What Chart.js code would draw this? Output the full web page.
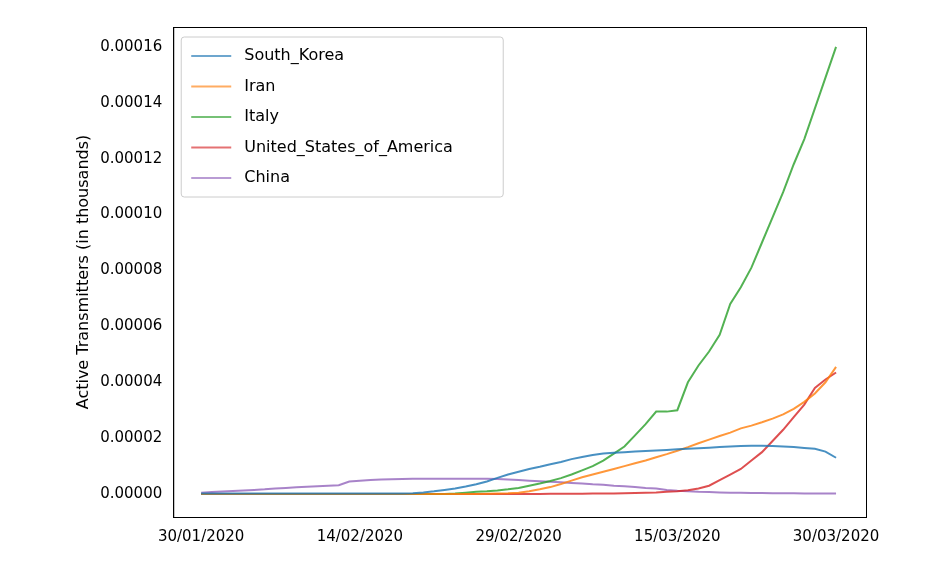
<!DOCTYPE html>
<html><head><script src="https://cdn.jsdelivr.net/npm/chart.js@4"></script>
<style>body{margin:0;background:#fff}#c{display:block}</style></head>
<body><canvas id="c" width="940" height="576"></canvas>
<script>
const dates=[];(function(){const d=new Date(2020,0,30);for(let i=0;i<61;i++){const x=new Date(d);x.setDate(d.getDate()+i);dates.push(String(x.getDate()).padStart(2,'0')+'/'+String(x.getMonth()+1).padStart(2,'0')+'/'+x.getFullYear());}})();
const tickDays=[0,15,30,45,60];
// values in units of 1e-5
const southKorea=[0.02,0.02,0.02,0.02,0.02,0.02,0.02,0.02,0.02,0.02,0.02,0.02,0.02,0.02,0.02,0.02,0.02,0.02,0.02,0.02,0.03,0.06,0.1,0.15,0.2,0.27,0.35,0.45,0.58,0.7,0.8,0.9,0.98,1.07,1.15,1.25,1.33,1.4,1.45,1.48,1.5,1.52,1.54,1.56,1.58,1.6,1.62,1.64,1.66,1.68,1.7,1.72,1.73,1.73,1.72,1.7,1.68,1.65,1.62,1.52,1.3];
const iran=[0,0,0,0,0,0,0,0,0,0,0,0,0,0,0,0,0,0,0,0,0,0,0,0,0,0,0,0.01,0.02,0.03,0.05,0.1,0.17,0.25,0.36,0.48,0.6,0.7,0.8,0.9,1.0,1.1,1.2,1.32,1.43,1.55,1.68,1.82,1.95,2.08,2.2,2.35,2.45,2.57,2.7,2.85,3.05,3.3,3.6,4.0,4.55];
const italy=[0,0,0,0,0,0,0,0,0,0,0,0,0,0,0,0,0,0,0,0,0,0,0,0,0.02,0.05,0.08,0.1,0.13,0.17,0.22,0.3,0.38,0.47,0.57,0.7,0.85,1.0,1.2,1.45,1.7,2.1,2.5,2.95,2.95,3.0,4.0,4.6,5.1,5.7,6.8,7.4,8.1,9.0,9.9,10.8,11.8,12.7,13.8,14.9,16.0];
const usa=[0,0,0,0,0,0,0,0,0,0,0,0,0,0,0,0,0,0,0,0,0,0,0,0,0,0,0,0,0,0,0,0,0,0.01,0.01,0.01,0.01,0.02,0.02,0.02,0.03,0.04,0.05,0.06,0.08,0.1,0.14,0.2,0.3,0.5,0.7,0.9,1.2,1.5,1.9,2.3,2.75,3.2,3.8,4.1,4.35];
const china=[0.05,0.07,0.09,0.11,0.13,0.15,0.17,0.2,0.22,0.24,0.26,0.28,0.3,0.32,0.45,0.48,0.5,0.52,0.53,0.54,0.55,0.55,0.55,0.55,0.55,0.55,0.55,0.55,0.54,0.52,0.5,0.48,0.46,0.44,0.42,0.4,0.38,0.35,0.33,0.3,0.28,0.25,0.22,0.2,0.15,0.12,0.1,0.08,0.07,0.06,0.05,0.05,0.04,0.04,0.03,0.03,0.03,0.02,0.02,0.02,0.02];
const seriesNames=['South_Korea','Iran','Italy','United_States_of_America','China'];
const seriesData=[southKorea,iran,italy,usa,china];
const colors=['#1f77b4','#ff7f0e','#2ca02c','#d62728','#9467bd'];
const F='"DejaVu Sans"';
const frame={id:'frame',afterDraw(c){const a=c.chartArea,x=c.ctx;x.save();x.strokeStyle='#000';x.lineWidth=1;x.strokeRect(a.left+0.5,a.top+0.5,a.right-a.left,a.bottom-a.top);
 const lx=a.left+8,ly=a.top+10,w=322,h=160;x.fillStyle='rgba(255,255,255,0.8)';x.strokeStyle='#ccc';x.beginPath();x.roundRect(lx,ly,w,h,3);x.fill();x.stroke();
 x.font='16px '+F;x.textBaseline='middle';c.data.datasets.forEach((d,i)=>{const yy=ly+19+i*30.5;x.strokeStyle=d.borderColor;x.globalAlpha=0.8;x.lineWidth=2;x.beginPath();x.moveTo(lx+10,yy);x.lineTo(lx+50,yy);x.stroke();x.globalAlpha=1;x.fillStyle='#000';x.fillText(d.label,lx+63,yy);});x.restore();}};
new Chart(document.getElementById('c'),{type:'line',
data:{datasets:seriesNames.map((n,i)=>({label:n,data:seriesData[i].map((v,j)=>({x:j,y:v*1e-5})),borderColor:colors[i]+'d0',backgroundColor:colors[i],borderWidth:2,pointRadius:0,tension:0}))},
options:{responsive:false,animation:false,layout:{padding:{left:70,right:74,top:27,bottom:27}},
plugins:{legend:{display:false},tooltip:{enabled:false}},
scales:{x:{type:'linear',min:-2.64,max:62.83,grid:{display:false},border:{color:'#000'},
afterBuildTicks(s){s.ticks=tickDays.map(v=>({value:v}));},
ticks:{autoSkip:false,maxRotation:0,color:'#000',font:{family:F,size:15},callback:v=>dates[v]}},
y:{min:-0.0000082,max:0.0001671,grid:{display:false},border:{color:'#000'},
afterBuildTicks(s){const t=[];for(let i=0;i<=8;i++)t.push({value:i*0.00002});s.ticks=t;},
ticks:{color:'#000',font:{family:F,size:15},callback:v=>v.toFixed(5)},
title:{display:true,text:'Active Transmitters (in thousands)',color:'#000',font:{family:F,size:16}}}}},
plugins:[frame]});
</script></body></html>
